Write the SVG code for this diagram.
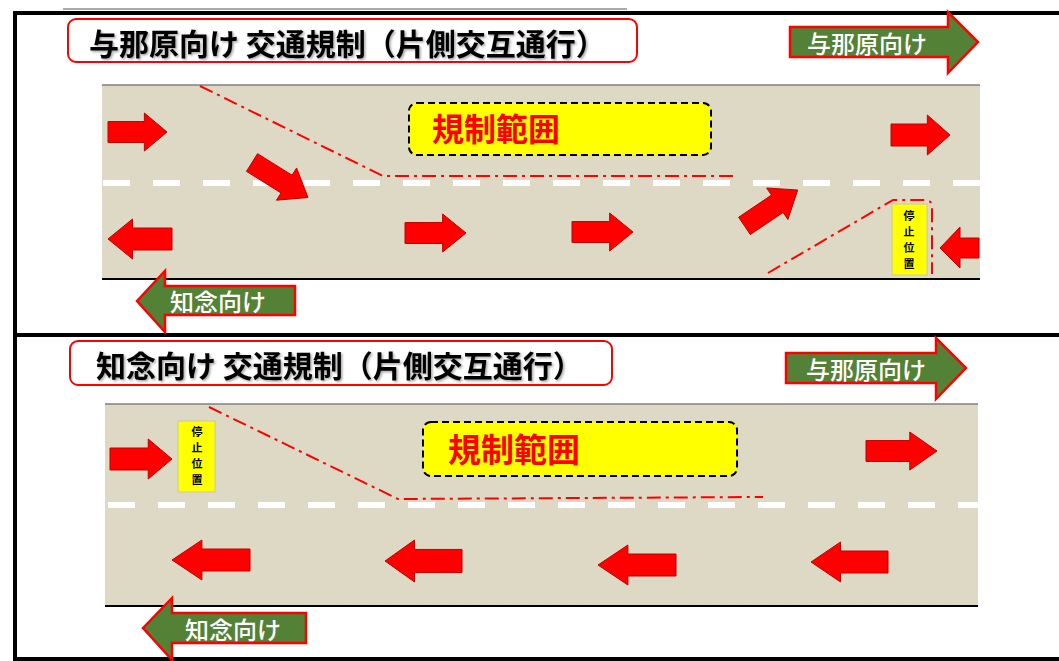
<svg xmlns="http://www.w3.org/2000/svg" xmlns:xlink="http://www.w3.org/1999/xlink" width="1059" height="661" viewBox="0 0 1059 661">
<style>
.frame{stroke:#000;stroke-width:4;fill:none}
.road{fill:#DDD9C4}
.roadtop{stroke:#7F7F7F;stroke-width:1.5}
.roadbot{stroke:#000;stroke-width:2}
.center{stroke:#fff;stroke-width:6;stroke-dasharray:27 23;fill:none}
.dd{stroke:#FF0000;stroke-width:2;stroke-dasharray:14 5 3 5;fill:none}
.title{fill:#fff;stroke:#FF0000;stroke-width:2}
.ttext{font-family:"Noto Sans CJK JP","Noto Sans",sans-serif;font-weight:bold;font-size:30px;fill:#000}
.zone{fill:#FFFF00;stroke:#000;stroke-width:2;stroke-dasharray:7 4}
.ztext{font-family:"Noto Sans CJK JP","Noto Sans",sans-serif;font-weight:bold;fill:#FF0000}
.garrow{fill:#538135;stroke:#FF0000;stroke-width:2.5}
.gtext{font-family:"Noto Sans CJK JP","Noto Sans",sans-serif;font-weight:500;font-size:24px;fill:#fff}
.stop{fill:#FFFF00;stroke:#C9C9A0;stroke-width:1}
.stext{font-family:"Noto Sans CJK JP","Noto Sans",sans-serif;font-weight:bold;font-size:11px;fill:#000;text-anchor:middle}
.rarrow{fill:#FF0000;stroke:#C00000;stroke-width:1}
</style>
<defs>
<filter id="sh" x="-5%" y="-20%" width="110%" height="140%">
<feDropShadow dx="1.5" dy="1.5" stdDeviation="1" flood-color="#000" flood-opacity="0.35"/>
</filter>
<path id="ra" d="M0,-11 H37 V-20 L60,0 L37,20 V11 H0 Z" vector-effect="non-scaling-stroke"/>
</defs>
<rect width="1059" height="661" fill="#fff"/>

<g id="frame">
<line class="frame" x1="13" y1="13" x2="1059" y2="13"/>
<line class="frame" x1="15" y1="11" x2="15" y2="661"/>
<line class="frame" x1="13" y1="335" x2="1059" y2="335"/>
<line class="frame" x1="13" y1="659" x2="1059" y2="659"/>
<rect x="63" y="15" width="564" height="68" fill="#fff"/>
<line x1="63" y1="9" x2="627" y2="9" stroke="#555" stroke-width="1"/>
</g>

<g id="road-top">
<rect class="road" x="102" y="85" width="878" height="194"/>
<line class="roadtop" x1="102" y1="85" x2="980" y2="85"/>
<line class="roadbot" x1="102" y1="279" x2="980" y2="279"/>
<line class="center" x1="103" y1="183" x2="980" y2="183"/>
</g>

<g id="road-bottom">
<rect class="road" x="105" y="404" width="873" height="202"/>
<line class="roadtop" x1="105" y1="404" x2="978" y2="404"/>
<line class="roadbot" x1="105" y1="606" x2="978" y2="606"/>
<line class="center" x1="108" y1="505" x2="978" y2="505"/>
</g>

<g id="connectors">
<polyline class="dd" points="200,86 383,176 738,176"/>
<path class="dd" d="M768,273 L893,200 H925 Q932,200 932,207 V274"/>
<polyline class="dd" points="209,407 398,499 763,497"/>
</g>

<g id="title-top">
<rect class="title" x="68" y="19" width="569" height="43" rx="8"/>
<text class="ttext" x="89" y="55" filter="url(#sh)">与那原向け 交通規制（片側交互通行）</text>
</g>

<g id="title-bottom">
<rect class="title" x="70" y="341" width="542" height="44" rx="8"/>
<text class="ttext" x="96" y="377" filter="url(#sh)">知念向け 交通規制（片側交互通行）</text>
</g>

<g id="zone-top">
<rect class="zone" x="409" y="103" width="302" height="52" rx="8"/>
<text class="ztext" x="432" y="141" font-size="32">規制範囲</text>
</g>

<g id="zone-bottom">
<rect class="zone" x="423" y="422" width="314" height="54" rx="8"/>
<text class="ztext" x="448" y="462" font-size="33">規制範囲</text>
</g>

<g id="dir-top-right">
<path class="garrow" d="M790,27 H948 V12 L978,42 L948,73 V57 H790 Z"/>
<text class="gtext" x="807" y="53">与那原向け</text>
</g>

<g id="dir-top-left">
<path class="garrow" d="M137,301 L165,271 V286 H295 V315 H165 V332 Z"/>
<text class="gtext" x="170" y="311">知念向け</text>
</g>

<g id="dir-bottom-right">
<path class="garrow" d="M786,353 H936 V338 L966,368 L936,399 V383 H786 Z"/>
<text class="gtext" x="806" y="379">与那原向け</text>
</g>

<g id="dir-bottom-left">
<path class="garrow" d="M143,628 L172,598 V613 H306 V643 H172 V660 Z"/>
<text class="gtext" x="185" y="639">知念向け</text>
</g>

<g id="stop-top">
<rect class="stop" x="892" y="204" width="35" height="71"/>
<text class="stext" x="909" y="220">停</text>
<text class="stext" x="909" y="236">止</text>
<text class="stext" x="909" y="252">位</text>
<text class="stext" x="909" y="268">置</text>
</g>

<g id="stop-bottom">
<rect class="stop" x="178" y="421" width="37" height="71"/>
<text class="stext" x="197" y="436">停</text>
<text class="stext" x="197" y="452">止</text>
<text class="stext" x="197" y="468">位</text>
<text class="stext" x="197" y="484">置</text>
</g>

<g id="traffic-arrows">
<use class="rarrow" xlink:href="#ra" transform="translate(108,132) scale(0.983,0.95)"/>
<use class="rarrow" xlink:href="#ra" transform="translate(891,135) scale(0.983,1)"/>
<use class="rarrow" xlink:href="#ra" transform="translate(280,180) rotate(32) translate(-33,0) scale(1.1,0.95)"/>
<use class="rarrow" xlink:href="#ra" transform="translate(172,239) scale(-1.067,1)"/>
<use class="rarrow" xlink:href="#ra" transform="translate(405,233) scale(1.017,0.95)"/>
<use class="rarrow" xlink:href="#ra" transform="translate(572,232) scale(1.017,0.95)"/>
<use class="rarrow" xlink:href="#ra" transform="translate(771,208) rotate(-34) translate(-32,0) scale(1.07,0.95)"/>
<path class="rarrow" d="M940,248 L960,227 V238 H979 V258 H960 V268 Z"/>
<use class="rarrow" xlink:href="#ra" transform="translate(110,459) scale(1.033,1)"/>
<use class="rarrow" xlink:href="#ra" transform="translate(866,451) scale(1.183,0.95)"/>
<use class="rarrow" xlink:href="#ra" transform="translate(250,560) scale(-1.3,1)"/>
<use class="rarrow" xlink:href="#ra" transform="translate(462,561) scale(-1.283,1.05)"/>
<use class="rarrow" xlink:href="#ra" transform="translate(676,565) scale(-1.3,1)"/>
<use class="rarrow" xlink:href="#ra" transform="translate(888,562) scale(-1.283,1)"/>
</g>
</svg>
